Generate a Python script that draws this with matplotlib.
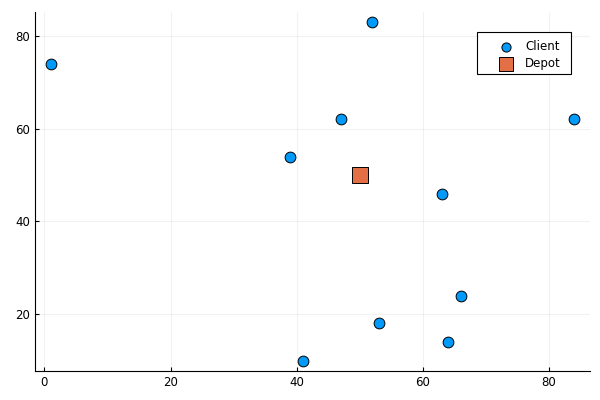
import matplotlib
matplotlib.use("Agg")
import matplotlib.pyplot as plt
from matplotlib.patches import Rectangle
import numpy as np

# client coordinates
client_x = [1, 52, 47, 84, 39, 63, 66, 53, 64, 41]
client_y = [74, 83, 62, 62, 54, 46, 24, 18, 14, 10]
depot_x = [50]
depot_y = [50]

fig = plt.figure(figsize=(6, 4), dpi=100)
ax = fig.add_axes([35 / 600, 1 - 370.7 / 400, (590 - 35) / 600, (370.7 - 12) / 400])

ax.scatter(client_x, client_y, s=60, c="#009AFA", edgecolors="black", linewidths=0.7,
           label="Client", zorder=3)
ax.scatter(depot_x, depot_y, s=140, c="#E26F46", marker="s", edgecolors="black",
           linewidths=0.7, label="Depot", zorder=3)

# axis limits widened by 3% on each side
allx = np.array(client_x + depot_x)
ally = np.array(client_y + depot_y)
dx = (allx.max() - allx.min()) * 0.03
dy = (ally.max() - ally.min()) * 0.03
ax.set_xlim(allx.min() - dx, allx.max() + dx)
ax.set_ylim(ally.min() - dy, ally.max() + dy)

ax.set_xticks([0, 20, 40, 60, 80])
ax.set_yticks([20, 40, 60, 80])
ax.grid(True, color="black", alpha=0.05, linewidth=0.8)
ax.spines["top"].set_visible(False)
ax.spines["right"].set_visible(False)
ax.tick_params(labelsize=8.5, length=3, direction="in", colors="black")

leg = ax.legend(loc="upper right", bbox_to_anchor=(0.962, 0.944), fontsize=8.5,
                frameon=False, borderpad=0.7, borderaxespad=0, handletextpad=-0.15,
                handlelength=3.5, labelspacing=0.3, markerscale=0.85)
leg.set_zorder(6)

# frame drawn by hand so the right padding can be wider than the top one
fig.canvas.draw()
bb = leg.get_window_extent()
frame = Rectangle((bb.x0, bb.y0 + 4), bb.width + 2, bb.height - 4, transform=None,
                  facecolor="white", edgecolor="black", linewidth=0.8,
                  zorder=5, clip_on=False)
ax.add_artist(frame)

fig.savefig("out.png", dpi=100)
